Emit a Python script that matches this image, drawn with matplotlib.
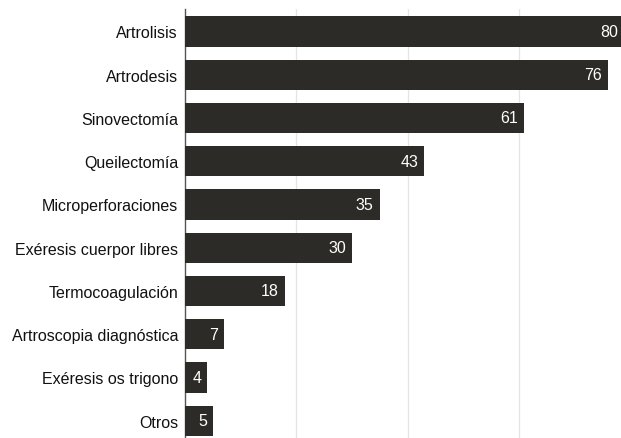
import matplotlib
matplotlib.use("Agg")
import matplotlib.pyplot as plt

plt.rcParams['font.family'] = ['Liberation Sans', 'DejaVu Sans']

categories = ["Artrolisis", "Artrodesis", "Sinovectomía", "Queilectomía",
              "Microperforaciones", "Exéresis cuerpor libres", "Termocoagulación",
              "Artroscopia diagnóstica", "Exéresis os trigono", "Otros"]
values = [80, 76, 61, 43, 35, 30, 18, 7, 4, 5]
grid_ticks = [20, 40, 60]

fig = plt.figure(figsize=(6.21, 4.39), dpi=100)
# axes runs a little past the right edge, so the longest bar is cut like in the original
ax = fig.add_axes([185 / 621, 0.0, (630 - 185) / 621, (439 - 10) / 439])

ypos = list(range(len(categories)))
ax.barh(ypos, values, height=0.7, color="#2d2b27", zorder=3)

ax.set_xlim(0, 80)
ax.set_ylim(9.4, -0.52)
ax.set_yticks(ypos)
ax.set_yticklabels(categories, fontsize=11.5, color="#111111")
ax.tick_params(axis="y", length=0, pad=5)
ax.set_xticks(grid_ticks)
ax.tick_params(axis="x", length=0, labelbottom=False)
ax.grid(axis="x", color="#e4e4e4", linewidth=0.9, zorder=0)

for s in ["top", "right", "bottom"]:
    ax.spines[s].set_visible(False)
ax.spines["left"].set_color("#555555")
ax.spines["left"].set_linewidth(1.0)

# value labels inside the bar end, kept inside the visible figure
fig.canvas.draw()
inv = ax.transData.inverted()
x_visible = inv.transform((fig.bbox.width - 3, 0))[0]
px = inv.transform((6, 0))[0] - inv.transform((0, 0))[0]
for y, v in zip(ypos, values):
    x = min(v - px, x_visible)
    ax.text(x, y, str(v), color="white", fontsize=11.5, ha="right", va="center", zorder=4)

fig.savefig("out.png", dpi=100, facecolor="white")
